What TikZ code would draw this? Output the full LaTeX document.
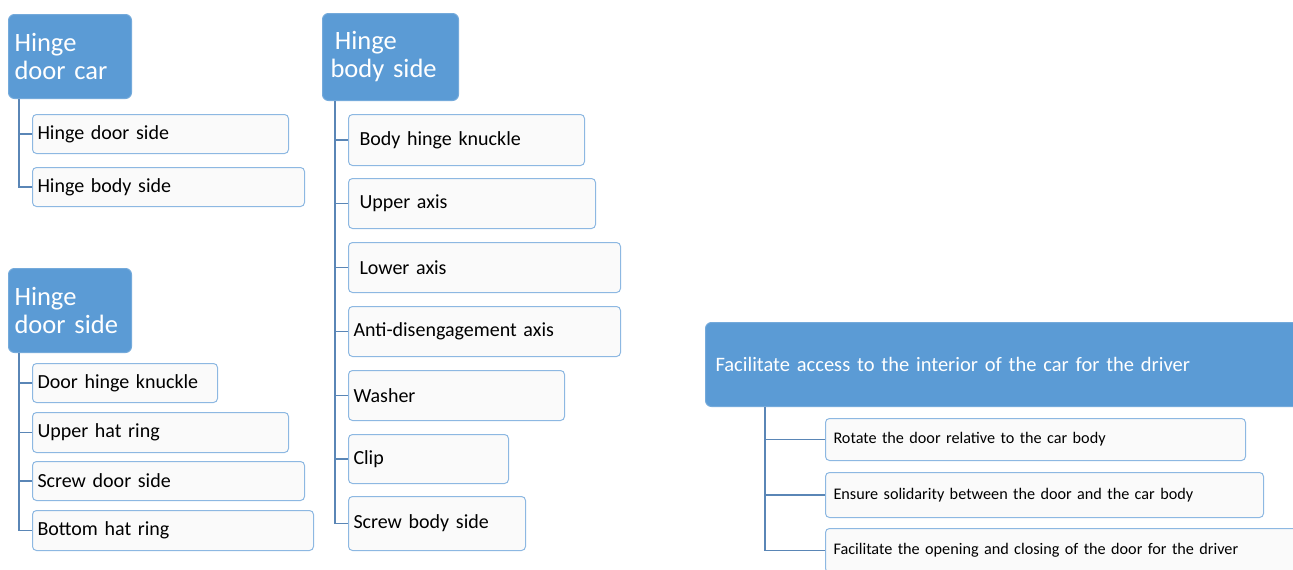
\documentclass[tikz,border=0pt]{standalone}
\usepackage{fontspec}
\setmainfont{Carlito}
\definecolor{headblue}{HTML}{5B9BD5}
\definecolor{leafline}{HTML}{8DB8E2}
\definecolor{leaffill}{HTML}{FAFAFA}
\definecolor{linkblue}{HTML}{5A86B6}
\begin{document}
\begin{tikzpicture}[x=1pt,y=-1pt,
    head/.style={draw=headblue!85!white, fill=headblue, text=white, rounded corners=6pt,
                 anchor=north west, align=left, inner xsep=6pt, line width=1pt,
                 font=\fontsize{26.5}{28}\selectfont},
    leaf/.style={draw=leafline, fill=leaffill, rounded corners=4pt, anchor=north west,
                 align=left, inner xsep=5pt, line width=1pt,
                 font=\fontsize{20}{22}\selectfont},
    small/.style={leaf, inner xsep=8pt, font=\fontsize{16.2}{18}\selectfont},
    link/.style={draw=linkblue, line width=1.1pt}]
    \useasboundingbox (0,0) rectangle (1293,570);
    \clip (0,0) rectangle (1293,570);

    % hinge door car
    \node [head, text width=111pt, minimum height=84pt] (hdc) at (8,14) {Hinge\\door car};
    \node [leaf, text width=246pt, minimum height=39pt] (hdc1) at (32,114) {Hinge door side};
    \node [leaf, text width=262pt, minimum height=39pt] (hdc2) at (32,167) {Hinge body side};
    \draw [link] ([xshift=11pt]hdc.south west) |- (hdc1.west);
    \draw [link] ([xshift=11pt]hdc.south west) |- (hdc2.west);

    % hinge door side
    \node [head, text width=111pt, minimum height=84pt] (hds) at (8,268) {Hinge\\door side};
    \node [leaf, text width=175pt, minimum height=39pt] (hds1) at (32,363) {Door hinge knuckle};
    \node [leaf, text width=246pt, minimum height=40pt] (hds2) at (32,412) {Upper hat ring};
    \node [leaf, text width=262pt, minimum height=39pt] (hds3) at (32,461) {Screw door side};
    \node [leaf, text width=271pt, minimum height=40pt] (hds4) at (32,510) {Bottom hat ring};
    \foreach \k in {1,...,4}
        \draw [link] ([xshift=11pt]hds.south west) |- (hds\k.west);

    % hinge body side
    \node [head, text width=120pt, inner xsep=8pt, minimum height=87pt] (hbs) at (322,13) {\,Hinge\\body side};
    \node [leaf, inner xsep=11pt, text width=214pt, minimum height=51pt] (hbs1) at (348,114) {Body hinge knuckle};
    \node [leaf, inner xsep=11pt, text width=225pt, minimum height=50pt] (hbs2) at (348,178) {Upper axis};
    \node [leaf, inner xsep=11pt, text width=250pt, minimum height=50pt] (hbs3) at (348,242) {Lower axis};
    \node [leaf, text width=262pt, minimum height=50pt] (hbs4) at (348,306) {Anti-disengagement axis};
    \node [leaf, text width=206pt, minimum height=50pt] (hbs5) at (348,370) {Washer};
    \node [leaf, text width=150pt, minimum height=49pt] (hbs6) at (348,434) {Clip};
    \node [leaf, text width=167pt, minimum height=54pt] (hbs7) at (348,496) {Screw body side};
    \foreach \k in {1,...,7}
        \draw [link] ([xshift=13pt]hbs.south west) |- (hbs\k.west);

    % function
    \node [head, text width=600pt, inner xsep=10pt, minimum height=84pt,
           font=\fontsize{20.5}{24}\selectfont] (fn) at (705,322)
          {Facilitate access to the interior of the car for the driver};
    \node [small, text width=404pt, minimum height=42pt] (fn1) at (825,418) {Rotate the door relative to the car body};
    \node [small, text width=422pt, minimum height=45pt] (fn2) at (825,472) {Ensure solidarity between the door and the car body};
    \node [small, text width=480pt, minimum height=44pt] (fn3) at (825,528) {Facilitate the opening and closing of the door for the driver};
    \foreach \k in {1,...,3}
        \draw [link] ([xshift=60pt]fn.south west) |- (fn\k.west);
\end{tikzpicture}
\end{document}
